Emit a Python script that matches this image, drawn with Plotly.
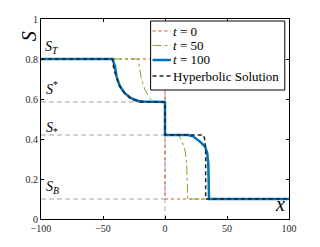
import plotly.graph_objects as go

# t = 0 (initial step)
x_t0 = [-100, 0, 0, 100]
s_t0 = [0.8, 0.8, 0.1, 0.1]

# t = 50
x_t50 = [-100, -21.5, -20.7, -18.8, -16.1, -12.1, -9.4, 0, 0, 10.8, 13.4, 16.1, 17.5, 18.0, 18.3, 100]
s_t50 = [0.8, 0.8, 0.762, 0.695, 0.645, 0.603, 0.587, 0.585, 0.42, 0.42, 0.395, 0.345, 0.278, 0.212, 0.1, 0.1]

# t = 100
x_t100 = [-100, -42.2, -40.3, -39.0, -36.3, -32.3, -26.9, -21.5, -17.5, 0, 0, 18.8, 22.8, 28.2, 32.3, 34.1, 34.9, 35.2, 35.5, 100]
s_t100 = [0.8, 0.8, 0.761, 0.711, 0.662, 0.628, 0.603, 0.59, 0.587, 0.585, 0.42, 0.42, 0.412, 0.387, 0.362, 0.328, 0.278, 0.212, 0.1, 0.1]

# Hyperbolic solution at t = 100
x_hyp = [-100, -42.5, -41.1, -37.6, -33.6, -28.2, -22.8, -20.0, 0, 0, 30.9, 32.0, 32.8, 32.8, 100]
s_hyp = [0.8, 0.8, 0.745, 0.678, 0.637, 0.603, 0.59, 0.585, 0.585, 0.42, 0.42, 0.40, 0.35, 0.1, 0.1]

# reference levels
ref_names = ["<i>S</i><sub><i>T</i></sub>", "<i>S</i><sup>*</sup>", "<i>S</i><sub>*</sub>", "<i>S</i><sub><i>B</i></sub>"]
ref_levels = [0.8, 0.585, 0.42, 0.1]
label_y = [0.86, 0.655, 0.455, 0.16]

legend_names = ["<i>t</i> = 0", "<i>t</i> = 50", "<i>t</i> = 100", "Hyperbolic Solution"]

x_ticks = [-100, -50, 0, 50, 100]
y_ticks = [0, 0.2, 0.4, 0.6, 0.8, 1]
y_tick_text = ["0", "0.2", "0.4", "0.6", "0.8", "1"]

FONT = "Liberation Serif"
styles = [
    dict(color="#D95319", width=1, dash="dot"),
    dict(color="#77AC30", width=1, dash="dashdot"),
    dict(color="#0072BD", width=2.5, dash="solid"),
    dict(color="#222222", width=1.5, dash="4px,3px"),
]

fig = go.Figure()

for lvl in ref_levels[1:]:
    fig.add_trace(go.Scatter(x=[-100, 0], y=[lvl, lvl], mode="lines",
                             line=dict(color="#8c8c8c", width=0.8, dash="5px,3px"),
                             showlegend=False, hoverinfo="skip"))
fig.add_trace(go.Scatter(x=[0, 0], y=[0, 1], mode="lines",
                         line=dict(color="#8c8c8c", width=0.8, dash="5px,3px"),
                         showlegend=False, hoverinfo="skip"))

for xs, ys, nm, st in zip([x_t0, x_t50, x_t100, x_hyp], [s_t0, s_t50, s_t100, s_hyp], legend_names, styles):
    fig.add_trace(go.Scatter(x=xs, y=ys, mode="lines", name=nm, line=st, showlegend=False))

for name, ly in zip(ref_names, label_y):
    fig.add_annotation(x=-91, y=ly, text=name, showarrow=False,
                       font=dict(family=FONT, size=14, color="black"))

fig.add_annotation(xref="paper", yref="paper", x=-0.1, y=0.95, text="<i>S</i>",
                   showarrow=False, textangle=-90, font=dict(family=FONT, size=20, color="black"))
fig.add_annotation(xref="paper", yref="paper", x=0.99, y=0.01, text="<i>x</i>",
                   showarrow=False, font=dict(family=FONT, size=20, color="black"))

# legend box (drawn manually for MATLAB-like compact spacing)
fig.add_shape(type="rect", xref="paper", yref="paper", x0=0.442, x1=0.983, y0=0.645, y1=0.99,
              line=dict(color="black", width=1), fillcolor="white", layer="above")
row_y = [0.94, 0.8675, 0.795, 0.715]
for nm, st, ry in zip(legend_names, styles, row_y):
    fig.add_shape(type="line", xref="paper", yref="paper", x0=0.4496, x1=0.524, y0=ry, y1=ry,
                  line=dict(color=st["color"], width=st["width"], dash=st["dash"]), layer="above")
    fig.add_annotation(xref="paper", yref="paper", x=0.526, y=ry, text=nm, showarrow=False,
                       xanchor="left", yanchor="middle",
                       font=dict(family=FONT, size=13, color="black"))

axis_common = dict(showline=True, linecolor="black", linewidth=1, mirror="ticks",
                   ticks="inside", ticklen=3, tickcolor="black", showgrid=False,
                   zeroline=False, tickfont=dict(family=FONT, size=10, color="#262626"))

fig.update_xaxes(range=[-100, 100], tickvals=x_ticks, **axis_common)
fig.update_yaxes(range=[0, 1], tickvals=y_ticks, ticktext=y_tick_text, **axis_common)

fig.update_layout(
    width=320, height=247,
    margin=dict(l=41, r=31, t=19, b=28),
    plot_bgcolor="white", paper_bgcolor="white",
    font=dict(family=FONT, color="black"),
    showlegend=False,
)

fig.write_html("out.html", config={"displayModeBar": False},
               post_script="document.body.style.margin='0px';")
